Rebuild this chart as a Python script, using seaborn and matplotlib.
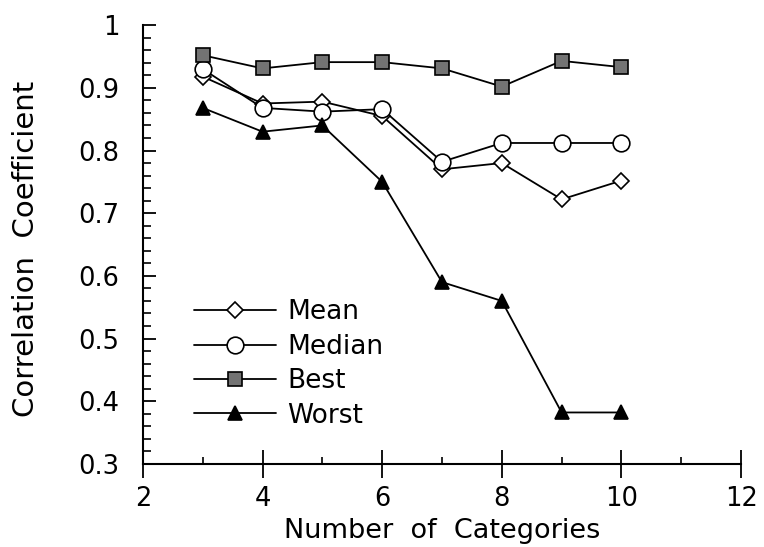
import pandas as pd
import numpy as np
from matplotlib import pyplot as plt
from matplotlib.ticker import MultipleLocator
import seaborn as sns

sns.set_style("ticks")
plt.rcParams["font.family"] = ["DejaVu Sans"]
plt.rcParams.update({"text.color": "black", "axes.labelcolor": "black",
                     "xtick.color": "black", "ytick.color": "black"})

categories = [3, 4, 5, 6, 7, 8, 9, 10]
mean_r = [0.918, 0.875, 0.878, 0.855, 0.770, 0.780, 0.722, 0.752]
median_r = [0.930, 0.868, 0.862, 0.866, 0.782, 0.812, 0.812, 0.812]
best_r = [0.952, 0.931, 0.941, 0.941, 0.931, 0.902, 0.943, 0.933]
worst_r = [0.868, 0.830, 0.840, 0.750, 0.590, 0.560, 0.382, 0.382]

series = {"Mean": mean_r, "Median": median_r, "Best": best_r, "Worst": worst_r}
df = pd.DataFrame([(k, c, v) for k, vals in series.items() for c, v in zip(categories, vals)],
                  columns=["series", "n", "r"])

styles = {
    "Mean": dict(marker="D", ms=8.5, mfc="white"),
    "Median": dict(marker="o", ms=12, mfc="white"),
    "Best": dict(marker="s", ms=10, mfc="0.45"),
    "Worst": dict(marker="^", ms=10, mfc="black"),
}

fig, ax = plt.subplots(figsize=(7.64, 5.47), dpi=100)
fig.subplots_adjust(left=0.187, right=0.970, top=0.954, bottom=0.152)

for name in series:
    d = df[df["series"] == name]
    sns.lineplot(x="n", y="r", data=d, ax=ax, color="black", lw=1.3,
                 mec="black", mew=1.2, label=name, **styles[name])

ax.set_xlim(2, 12)
ax.set_ylim(0.3, 1.0)
ax.set_xticks([2, 4, 6, 8, 10, 12])
ax.set_yticks([0.3, 0.4, 0.5, 0.6, 0.7, 0.8, 0.9, 1.0])
ax.set_yticklabels(["0.3", "0.4", "0.5", "0.6", "0.7", "0.8", "0.9", "1"])
ax.xaxis.set_minor_locator(MultipleLocator(1))
ax.yaxis.set_minor_locator(MultipleLocator(0.02))
ax.tick_params(axis="x", which="major", direction="inout", length=20, width=1.3,
               labelsize=18.5, pad=6)
ax.tick_params(axis="x", which="minor", direction="in", length=5, width=1.2)
ax.tick_params(axis="y", which="major", direction="in", length=9, width=1.3,
               labelsize=18.5, pad=17)
ax.tick_params(axis="y", which="minor", direction="in", length=5.5, width=1.2)

sns.despine(ax=ax)
for s in ["left", "bottom"]:
    ax.spines[s].set_linewidth(1.5)
    ax.spines[s].set_color("black")

ax.set_xlabel("Number  of  Categories", fontsize=19.5)
ax.set_ylabel("Correlation  Coefficient", fontsize=21)
ax.xaxis.set_label_coords(0.5, -0.124)
ax.yaxis.set_label_coords(-0.172, 0.49)

ax.legend(loc="upper left", bbox_to_anchor=(0.085, 0.375), frameon=False,
          fontsize=19, handlelength=3.1, handletextpad=0.45, labelspacing=0.32,
          borderpad=0, borderaxespad=0)

plt.savefig("out.png")
plt.close()
